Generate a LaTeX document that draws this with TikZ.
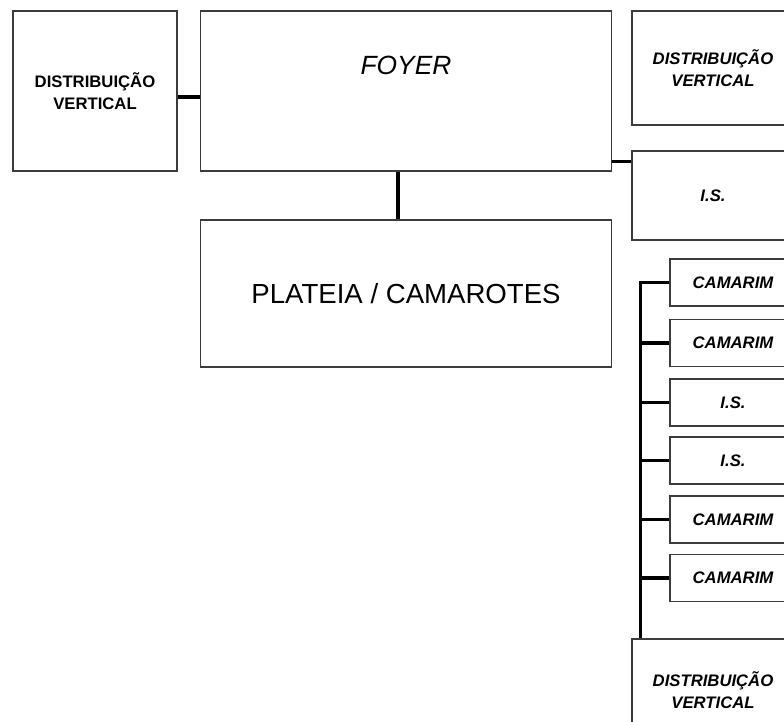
\documentclass[tikz,border=0pt]{standalone}
\usepackage{fontspec}
\setmainfont{Liberation Sans}
\definecolor{boxline}{HTML}{3C3C3C}
\usetikzlibrary{positioning, calc}

\begin{document}
\begin{tikzpicture}[x=0.02cm, y=-0.02cm,
    box/.style={draw=boxline, line width=0.6pt, fill=white, inner sep=0pt, align=center},
    smalltxt/.style={font=\fontsize{9.5}{12.8}\selectfont\bfseries\itshape},
    link/.style={line width=2pt, black}]
  \useasboundingbox (0,0) rectangle (784,721);
  \clip (0,0) rectangle (784,721);

  % main block
  \node[box, minimum width=3.28cm, minimum height=3.2cm,
        font=\fontsize{9.5}{12.5}\selectfont\bfseries] (dvleft) at (95,91)
        {DISTRIBUIÇÃO\\VERTICAL};
  \node[box, minimum width=8.24cm, minimum height=3.2cm] (foyer) at (406,91) {};
  \node[font=\fontsize{15}{18}\selectfont\itshape] (foyertxt)
        at ([yshift=-31pt]foyer.north) {FOYER};
  \node[box, minimum width=8.24cm, minimum height=2.94cm,
        font=\fontsize{15.7}{18}\selectfont] (plateia) at (406,293.5)
        {PLATEIA / CAMAROTES};

  % right column
  \node[box, smalltxt, minimum width=3.24cm, minimum height=2.28cm] (dvtop) at (713,68)
        {DISTRIBUIÇÃO\\VERTICAL};
  \node[box, smalltxt, minimum width=3.24cm, minimum height=1.78cm] (istop) at (713,195.5)
        {I.S.};

  % camarins
  \foreach \n/\y/\t in {1/282.5/CAMARIM, 2/343/CAMARIM, 3/402.5/I.S.,
                        4/460.5/I.S., 5/519.5/CAMARIM, 6/578/CAMARIM}
    \node[box, smalltxt, minimum width=2.52cm, minimum height=0.94cm] (cam\n) at (733,\y) {\t};
  \node[box, smalltxt, minimum width=3.24cm, minimum height=2.04cm] (dvbot) at (713,690)
        {DISTRIBUIÇÃO\\VERTICAL};

  % links
  \draw[link] ([yshift=-3.4pt]dvleft.east) -- ([yshift=-3.4pt]foyer.west);
  \draw[link] ([xshift=-4.5pt]foyer.south) -- ([xshift=-4.5pt]plateia.north);
  \draw[link] ([yshift=-6.2pt]istop.north west) -- ([yshift=-6.2pt]istop.north west -| foyer.east);
  \coordinate (bus) at ([xshift=5.1pt]dvbot.north west);
  \draw[link] (cam1.west) -| (bus);
  \foreach \n in {2,...,6}
    \draw[link] (cam\n.west) -- (cam\n.west -| bus);
\end{tikzpicture}
\end{document}
